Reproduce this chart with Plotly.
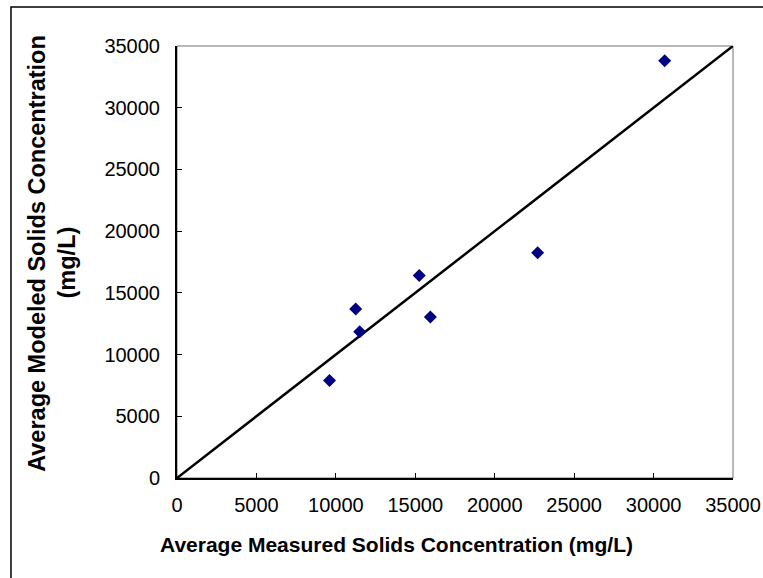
import plotly.graph_objs as go

# measured vs modeled solids concentration (mg/L)
measured = [9600, 11250, 11500, 15250, 15950, 22700, 30700]
modeled = [7900, 13700, 11850, 16400, 13050, 18250, 33800]

# 1:1 line
line_x = [0, 35000]
line_y = [0, 35000]

tick_vals = [0, 5000, 10000, 15000, 20000, 25000, 30000, 35000]
tick_text = [str(v) for v in tick_vals]

fig = go.Figure()

fig.add_trace(go.Scatter(
    x=line_x, y=line_y, mode='lines',
    line=dict(color='black', width=2.5),
    hoverinfo='skip'
))

fig.add_trace(go.Scatter(
    x=measured, y=modeled, mode='markers',
    marker=dict(symbol='diamond', size=10, color='#000080'),
))

axis_font = dict(family='Liberation Sans, Arial', size=20, color='black')

fig.update_layout(
    width=763, height=578,
    margin=dict(l=177, r=30, t=46, b=100),
    plot_bgcolor='white', paper_bgcolor='white',
    showlegend=False,
    font=axis_font,
)

fig.update_xaxes(
    range=[0, 35000], tickvals=tick_vals, ticktext=tick_text,
    showgrid=False, zeroline=False, automargin=False,
    showline=True, linecolor='black', linewidth=2,
    ticks='inside', ticklen=5, tickwidth=1, tickcolor='black',
    ticklabelstandoff=8,
    tickfont=axis_font,
)
fig.update_yaxes(
    range=[0, 35000], tickvals=tick_vals, ticktext=tick_text,
    showgrid=False, zeroline=False, automargin=False,
    showline=True, linecolor='black', linewidth=2,
    ticks='inside', ticklen=5, tickwidth=1, tickcolor='black',
    ticklabelstandoff=11,
    tickfont=axis_font,
)

# plot area border (top / right, gray)
fig.add_shape(type='rect', xref='paper', yref='paper', x0=0, y0=0, x1=1, y1=1,
              line=dict(color='#707070', width=1), layer='below')

# outer chart frame
fig.add_shape(type='rect', xref='paper', yref='paper',
              x0=-0.2986, y0=-0.4, x1=1.2, y1=1.0903,
              line=dict(color='black', width=1.5))

fig.add_annotation(
    text='<b>Average Measured Solids Concentration (mg/L)</b>',
    xref='paper', yref='paper', x=0.395, y=-0.155,
    xanchor='center', yanchor='middle', showarrow=False,
    font=dict(family='Liberation Sans, Arial', size=21, color='black')
)
fig.add_annotation(
    text='<b>Average Modeled Solids Concentration</b>',
    xref='paper', yref='paper', x=-0.251, y=0.52, textangle=-90,
    xanchor='center', yanchor='middle', showarrow=False,
    font=dict(family='Liberation Sans, Arial', size=23.5, color='black')
)
fig.add_annotation(
    text='<b>(mg/L)</b>',
    xref='paper', yref='paper', x=-0.197, y=0.5, textangle=-90,
    xanchor='center', yanchor='middle', showarrow=False,
    font=dict(family='Liberation Sans, Arial', size=23.5, color='black')
)

fig.write_html("out.html", config={'displayModeBar': False},
               post_script="document.body.style.margin='0';"
                           "document.body.style.overflow='hidden';")
